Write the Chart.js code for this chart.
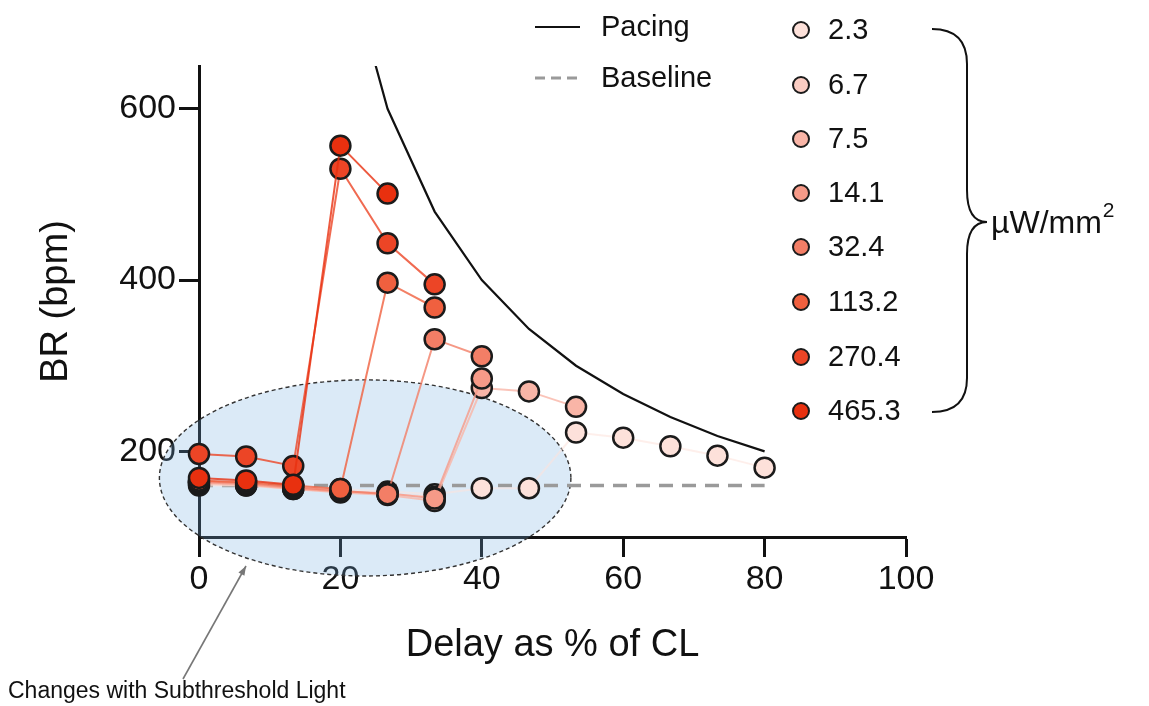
<!DOCTYPE html>
<html>
<head>
<meta charset="utf-8">
<script src="https://cdn.jsdelivr.net/npm/chart.js@4.4.0/dist/chart.umd.min.js"></script>
<style>
  html, body { margin: 0; padding: 0; background: #fff; }
  #wrap { width: 1149px; height: 706px; position: relative; }
</style>
</head>
<body>
<div id="wrap"><canvas id="grafico" width="1149" height="706"></canvas></div>
<script>
// Dados
const delayPct = [0, 6.67, 13.33, 20, 26.67, 33.33, 40, 46.67, 53.33, 60, 66.67, 73.33, 80];
const intensidades = ["2.3", "6.7", "7.5", "14.1", "32.4", "113.2", "270.4", "465.3"];
const coresSerie = ["#fde1da", "#fbcdc3", "#f9b5a7", "#f69a88", "#f37e66", "#f0603f", "#ec4526", "#e8300f"];

const br_2_3 = [160, 160, 158, 156, 153, 150, 157, 157, 222, 216, 206, 195, 181];
const br_6_7 = [162, 160, 156, 153, 150, 147];
const br_7_5 = [163, 161, 156, 152, 149, 142, 274, 270, 252];
const br_14_1 = [164, 162, 157, 153, 151, 145, 285];
const br_32_4 = [165, 163, 158, 154, 150, 331, 311];
const br_113_2 = [166, 164, 160, 156, 397, 368];
const br_270_4 = [197, 194, 183, 530, 443, 395];
const br_465_3 = [169, 166, 161, 557, 501];
const seriesBR = [br_2_3, br_6_7, br_7_5, br_14_1, br_32_4, br_113_2, br_270_4, br_465_3];

const pacingDelay = [20, 26.67, 33.33, 40, 46.67, 53.33, 60, 66.67, 73.33, 80];
const pacingBR = [800, 600, 480, 400, 343, 300, 267, 240, 218, 200];
const baselineDelay = [0, 80];
const baselineBR = [160, 160];

const yTicks = [200, 400, 600];
const xTicks = [0, 20, 40, 60, 80, 100];

const FONTE = '"Liberation Sans", Arial, Helvetica, sans-serif';
Chart.defaults.font.family = FONTE;
Chart.defaults.color = "#111";

function hexA(hex, a) {
  const n = parseInt(hex.slice(1), 16);
  return `rgba(${(n >> 16) & 255}, ${(n >> 8) & 255}, ${n & 255}, ${a})`;
}

// datasets das intensidades (a mais forte por cima)
const datasetsSerie = [];
for (let i = seriesBR.length - 1; i >= 0; i--) {
  const vals = seriesBR[i];
  datasetsSerie.push({
    label: intensidades[i],
    data: vals.map((v, k) => ({ x: delayPct[k], y: v })),
    showLine: true,
    borderColor: hexA(coresSerie[i], i === 0 ? 0.55 : 0.8),
    borderWidth: 2,
    backgroundColor: coresSerie[i],
    pointBackgroundColor: coresSerie[i],
    pointBorderColor: "#1b1b1b",
    pointBorderWidth: 2.5,
    pointRadius: 10,
    clip: false
  });
}

// Elipse e seta ("Changes with Subthreshold Light")
const elipse = { cx: 23.5, cy: 169, rx: 29.1, ry: 114.5 };

const elipsePlugin = {
  id: "elipse",
  beforeDatasetsDraw(chart) {
    const { ctx, scales: { x, y } } = chart;
    const cx = x.getPixelForValue(elipse.cx);
    const cy = y.getPixelForValue(elipse.cy);
    const rx = x.getPixelForValue(elipse.cx + elipse.rx) - cx;
    const ry = cy - y.getPixelForValue(elipse.cy + elipse.ry);
    ctx.save();
    ctx.beginPath();
    ctx.ellipse(cx, cy, rx, ry, 0, 0, Math.PI * 2);
    ctx.fillStyle = "rgba(115, 175, 223, 0.26)";
    ctx.fill();
    ctx.setLineDash([4, 3]);
    ctx.lineWidth = 1.4;
    ctx.strokeStyle = "#333";
    ctx.stroke();
    ctx.restore();
  }
};

const legendaPlugin = {
  id: "legenda",
  afterDraw(chart) {
    const ctx = chart.ctx;
    ctx.save();
    ctx.textBaseline = "middle";
    ctx.fillStyle = "#111";
    ctx.font = "29px " + FONTE;

    // Pacing / Baseline
    ctx.strokeStyle = "#111";
    ctx.lineWidth = 2;
    ctx.beginPath(); ctx.moveTo(535, 27); ctx.lineTo(580, 27); ctx.stroke();
    ctx.fillText("Pacing", 601, 28);
    ctx.strokeStyle = "#9a9a9a";
    ctx.lineWidth = 3;
    ctx.setLineDash([10, 6]);
    ctx.beginPath(); ctx.moveTo(535, 78); ctx.lineTo(580, 78); ctx.stroke();
    ctx.setLineDash([]);
    ctx.fillText("Baseline", 601, 79);

    // intensidades
    const ys = [30, 85, 139, 193, 247, 302, 357, 411];
    intensidades.forEach((t, i) => {
      ctx.beginPath();
      ctx.arc(801, ys[i], 8, 0, Math.PI * 2);
      ctx.fillStyle = coresSerie[i];
      ctx.fill();
      ctx.lineWidth = 2;
      ctx.strokeStyle = "#1b1b1b";
      ctx.stroke();
      ctx.fillStyle = "#111";
      ctx.fillText(t, 828, ys[i] + 1);
    });

    // chave
    ctx.strokeStyle = "#111";
    ctx.lineWidth = 2;
    ctx.beginPath();
    ctx.moveTo(932, 29);
    ctx.quadraticCurveTo(967, 29, 967, 64);
    ctx.lineTo(967, 190);
    ctx.quadraticCurveTo(967, 222, 987, 222);
    ctx.quadraticCurveTo(967, 222, 967, 254);
    ctx.lineTo(967, 378);
    ctx.quadraticCurveTo(967, 412, 932, 412);
    ctx.stroke();
    ctx.font = "32px " + FONTE;
    ctx.fillText("\u00b5W/mm", 991, 224);
    const w = ctx.measureText("\u00b5W/mm").width;
    ctx.font = "21px " + FONTE;
    ctx.fillText("2", 991 + w + 1, 211);

    // seta + texto
    ctx.strokeStyle = "#777";
    ctx.fillStyle = "#777";
    ctx.lineWidth = 1.6;
    const x0 = 183, y0 = 679, x1 = 246, y1 = 566;
    ctx.beginPath(); ctx.moveTo(x0, y0); ctx.lineTo(x1, y1); ctx.stroke();
    const ang = Math.atan2(y1 - y0, x1 - x0);
    ctx.beginPath();
    ctx.moveTo(x1, y1);
    ctx.lineTo(x1 - 10 * Math.cos(ang - 0.35), y1 - 10 * Math.sin(ang - 0.35));
    ctx.lineTo(x1 - 10 * Math.cos(ang + 0.35), y1 - 10 * Math.sin(ang + 0.35));
    ctx.closePath();
    ctx.fill();

    ctx.fillStyle = "#111";
    ctx.font = "23px " + FONTE;
    ctx.fillText("Changes with Subthreshold Light", 8, 692);
    ctx.restore();
  }
};

new Chart(document.getElementById("grafico"), {
  type: "scatter",
  data: {
    datasets: [
      {
        label: "Pacing",
        data: pacingDelay.map((d, i) => ({ x: d, y: pacingBR[i] })),
        showLine: true,
        borderColor: "#111",
        borderWidth: 2.2,
        pointRadius: 0,
        clip: { left: false, top: 0, right: false, bottom: false }
      },
      ...datasetsSerie,
      {
        label: "Baseline",
        data: baselineDelay.map((d, i) => ({ x: d, y: baselineBR[i] })),
        showLine: true,
        borderColor: "#9a9a9a",
        borderWidth: 3.5,
        borderDash: [14, 9],
        pointRadius: 0,
        clip: false
      }
    ]
  },
  options: {
    responsive: false,
    animation: false,
    layout: { padding: { top: 66, right: 243, left: 0, bottom: 0 } },
    plugins: { legend: { display: false }, tooltip: { enabled: false } },
    scales: {
      x: {
        type: "linear",
        min: 0,
        max: 100,
        afterFit(scale) { scale.height = 169; },
        afterBuildTicks(scale) { scale.ticks = xTicks.map(v => ({ value: v })); },
        grid: { drawOnChartArea: false, drawTicks: true, tickLength: 20, tickWidth: 3, tickColor: "#111" },
        border: { display: true, width: 3, color: "#111" },
        ticks: { font: { size: 34 }, color: "#111", padding: 2, maxRotation: 0 },
        title: { display: true, text: "Delay as % of CL", font: { size: 38 }, color: "#111", padding: { top: 0, bottom: 38 } }
      },
      y: {
        type: "linear",
        min: 100,
        max: 650,
        afterFit(scale) { scale.width = 199; },
        afterBuildTicks(scale) { scale.ticks = yTicks.map(v => ({ value: v })); },
        grid: { drawOnChartArea: false, drawTicks: true, tickLength: 20, tickWidth: 3, tickColor: "#111" },
        border: { display: true, width: 3, color: "#111" },
        ticks: { font: { size: 34 }, color: "#111", padding: 3 },
        title: { display: true, text: "BR (bpm)", font: { size: 38 }, color: "#111", padding: { top: 34, bottom: 0 } }
      }
    }
  },
  plugins: [elipsePlugin, legendaPlugin]
});
</script>
</body>
</html>
